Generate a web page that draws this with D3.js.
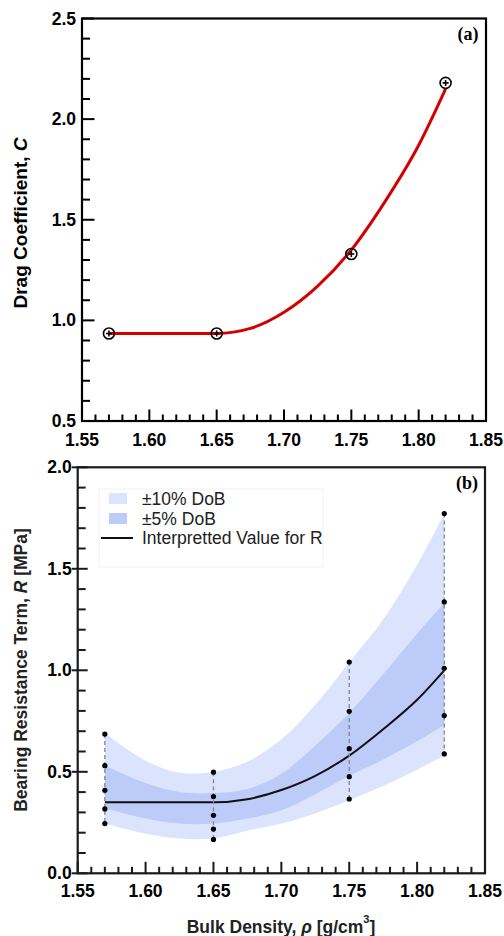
<!DOCTYPE html>
<html>
<head>
<meta charset="utf-8">
<script src="https://cdn.jsdelivr.net/npm/d3@7"></script>
<style>
  body { margin: 0; background: #fff; }
  svg { display: block; }
  text { font-family: "Liberation Sans", Arial, sans-serif; }
</style>
</head>
<body>
<svg width="504" height="936"></svg>
<script>
// panel (a) - drag coefficient
var dragRho = [1.57, 1.65, 1.75, 1.82];
var dragC = [0.935, 0.935, 1.33, 2.18];
var fitRhoA = [1.57, 1.60, 1.65, 1.675, 1.70, 1.725, 1.75, 1.775, 1.80, 1.82];
var fitC = [0.935, 0.935, 0.935, 0.96, 1.04, 1.17, 1.35, 1.59, 1.87, 2.15];

// panel (b) - bearing resistance
var bandRho = [1.57, 1.60, 1.625, 1.65, 1.675, 1.70, 1.725, 1.75, 1.775, 1.80, 1.82];
var outerHi = [0.69, 0.555, 0.495, 0.50, 0.55, 0.66, 0.83, 1.04, 1.25, 1.52, 1.77];
var innerHi = [0.53, 0.445, 0.40, 0.395, 0.415, 0.49, 0.63, 0.79, 0.98, 1.18, 1.33];
var innerLo = [0.32, 0.27, 0.245, 0.245, 0.27, 0.31, 0.39, 0.48, 0.56, 0.65, 0.73];
var outerLo = [0.245, 0.195, 0.172, 0.172, 0.21, 0.245, 0.295, 0.36, 0.43, 0.51, 0.58];
var fitRhoB = [1.57, 1.60, 1.625, 1.65, 1.675, 1.70, 1.725, 1.75, 1.775, 1.80, 1.82];
var fitR = [0.35, 0.35, 0.35, 0.35, 0.365, 0.41, 0.48, 0.58, 0.71, 0.855, 1.0];
var sampleRho = [1.57, 1.65, 1.75, 1.82];
var sampleR = [
  [0.686, 0.530, 0.409, 0.317, 0.245],
  [0.498, 0.378, 0.286, 0.218, 0.167],
  [1.041, 0.798, 0.614, 0.476, 0.366],
  [1.772, 1.337, 1.010, 0.777, 0.588]
];

var xMajor = [1.55, 1.60, 1.65, 1.70, 1.75, 1.80, 1.85];
var yMajorA = [0.5, 1.0, 1.5, 2.0, 2.5];
var yMajorB = [0.0, 0.5, 1.0, 1.5, 2.0];
var legendLabels = ["\u00b110% DoB", "\u00b15% DoB", "Interpretted Value for R"];

var svg = d3.select("svg");
var LIGHT = "#dbe4fc", DARK = "#bccbf7";

function range(a, b, step) {
    var out = [];
    var n = Math.round((b - a) / step);
    for (var i = 0; i <= n; i++) out.push(+(a + i * step).toFixed(3));
    return out;
}

function drawAxes(x, y, yMajor, yMinorStep, opt) {
    var g = svg.append("g");
    var x0 = x.range()[0], x1 = x.range()[1];
    var y0 = y.range()[0], y1 = y.range()[1];
    // x minor / major ticks (inward)
    g.selectAll(".xm").data(range(1.55, 1.85, 0.01)).join("line")
        .attr("x1", d => x(d)).attr("x2", d => x(d))
        .attr("y1", y0).attr("y2", d => y0 - (xMajor.some(m => Math.abs(m - d) < 1e-6) ? 11.5 : 6.5))
        .attr("stroke", opt.axisColor).attr("stroke-width", 2);
    var yd = y.domain();
    g.selectAll(".ym").data(range(yd[0], yd[1], yMinorStep)).join("line")
        .attr("y1", d => y(d)).attr("y2", d => y(d))
        .attr("x1", d => x0 - (yMajor.some(m => Math.abs(m - d) < 1e-6) ? opt.yOut : 0))
        .attr("x2", d => x0 + (yMajor.some(m => Math.abs(m - d) < 1e-6) ? opt.yMajorIn : opt.yMinorIn))
        .attr("stroke", opt.axisColor).attr("stroke-width", 2);
    // frame
    g.append("rect").attr("x", x0).attr("y", y1).attr("width", x1 - x0).attr("height", y0 - y1)
        .attr("fill", "none").attr("stroke", opt.axisColor).attr("stroke-width", 2.2);
    // labels
    g.selectAll(".xl").data(xMajor).join("text")
        .attr("x", d => x(d)).attr("y", y0 + opt.xLabelDy)
        .attr("text-anchor", "middle").attr("font-size", 17.5).attr("font-weight", "bold")
        .text(d => d.toFixed(2));
    g.selectAll(".yl").data(yMajor).join("text")
        .attr("x", x0 - 6).attr("y", d => y(d) + 6)
        .attr("text-anchor", "end").attr("font-size", 17.5).attr("font-weight", "bold")
        .text(d => d.toFixed(1));
}

// ---------- panel (a)
var xA = d3.scaleLinear().domain([1.55, 1.85]).range([82, 486]);
var yA = d3.scaleLinear().domain([0.5, 2.5]).range([421, 18.5]);

drawAxes(xA, yA, yMajorA, 0.1, { axisColor: "#000", yOut: 0, yMajorIn: 12.5, yMinorIn: 8, xLabelDy: 25 });

var lineA = d3.line().x(d => xA(d[0])).y(d => yA(d[1])).curve(d3.curveMonotoneX);
svg.append("path").datum(d3.zip(fitRhoA, fitC))
    .attr("d", lineA).attr("fill", "none").attr("stroke", "#d40000").attr("stroke-width", 3);

var mk = svg.selectAll(".mk").data(d3.zip(dragRho, dragC)).join("g")
    .attr("transform", d => "translate(" + xA(d[0]) + "," + yA(d[1]) + ")");
mk.append("circle").attr("r", 5.5).attr("fill", "none").attr("stroke", "#000").attr("stroke-width", 1.6);
mk.append("path").attr("d", "M-3,0H3M0,-3V3").attr("stroke", "#000").attr("stroke-width", 1.6);

svg.append("text").attr("x", 468).attr("y", 40).attr("text-anchor", "middle")
    .style("font-family", "'Liberation Serif', 'Times New Roman', serif")
    .attr("font-size", 18).attr("font-weight", "bold").text("(a)");

var tA = svg.append("text").attr("transform", "translate(27,223) rotate(-90)")
    .attr("text-anchor", "middle").attr("font-size", 19).attr("font-weight", "bold");
tA.append("tspan").text("Drag Coefficient, ");
tA.append("tspan").attr("font-style", "italic").text("C");

// ---------- panel (b)
var xB = d3.scaleLinear().domain([1.55, 1.85]).range([77.7, 485]);
var yB = d3.scaleLinear().domain([0, 2]).range([873.3, 467.3]);

var bandData = bandRho.map((r, i) => ({ r: r, oh: outerHi[i], ih: innerHi[i], il: innerLo[i], ol: outerLo[i] }));
var areaOuter = d3.area().x(d => xB(d.r)).y0(d => yB(d.ol)).y1(d => yB(d.oh)).curve(d3.curveCatmullRom);
var areaInner = d3.area().x(d => xB(d.r)).y0(d => yB(d.il)).y1(d => yB(d.ih)).curve(d3.curveCatmullRom);
svg.append("path").datum(bandData).attr("d", areaOuter).attr("fill", LIGHT);
svg.append("path").datum(bandData).attr("d", areaInner).attr("fill", DARK);

svg.append("path").datum(d3.zip(fitRhoB, fitR))
    .attr("d", d3.line().x(d => xB(d[0])).y(d => yB(d[1])).curve(d3.curveMonotoneX))
    .attr("fill", "none").attr("stroke", "#111").attr("stroke-width", 2);

// sample columns
var col = svg.selectAll(".col").data(sampleRho.map((r, i) => ({ r: r, v: sampleR[i] }))).join("g");
col.append("line")
    .attr("x1", d => xB(d.r)).attr("x2", d => xB(d.r))
    .attr("y1", d => yB(d3.max(d.v))).attr("y2", d => yB(d3.min(d.v)))
    .attr("stroke", "#808590").attr("stroke-width", 1.3).attr("stroke-dasharray", "4,3");
col.selectAll("circle").data(d => d.v.map(v => [d.r, v])).join("circle")
    .attr("cx", d => xB(d[0])).attr("cy", d => yB(d[1])).attr("r", 2.6).attr("fill", "#000");

drawAxes(xB, yB, yMajorB, 0.1, { axisColor: "#1a1a1a", yOut: 6, yMajorIn: 10, yMinorIn: 8, xLabelDy: 24 });

svg.append("text").attr("x", 467).attr("y", 489).attr("text-anchor", "middle")
    .style("font-family", "'Liberation Serif', 'Times New Roman', serif")
    .attr("font-size", 18).attr("font-weight", "bold").text("(b)");

// legend
var lg = svg.append("g");
lg.append("rect").attr("x", 99).attr("y", 489).attr("width", 224).attr("height", 78)
    .attr("fill", "none").attr("stroke", "#f2f2f2").attr("stroke-width", 1);
lg.append("rect").attr("x", 109).attr("y", 493).attr("width", 18).attr("height", 11).attr("fill", LIGHT);
lg.append("rect").attr("x", 109).attr("y", 513).attr("width", 18).attr("height", 11).attr("fill", DARK);
lg.append("line").attr("x1", 101).attr("x2", 133).attr("y1", 538).attr("y2", 538)
    .attr("stroke", "#111").attr("stroke-width", 2);
lg.selectAll(".lt").data(legendLabels).join("text")
    .attr("x", 142).attr("y", (d, i) => 505 + i * 19.7)
    .attr("font-size", 17.5).attr("fill", "#222").text(d => d);

var tB = svg.append("text").attr("transform", "translate(27,670) rotate(-90)")
    .attr("text-anchor", "middle").attr("font-size", 17.5).attr("font-weight", "bold").attr("fill", "#222");
tB.append("tspan").text("Bearing Resistance Term, ");
tB.append("tspan").attr("font-style", "italic").text("R");
tB.append("tspan").text(" [MPa]");

var xt = svg.append("text").attr("x", 281).attr("y", 933)
    .attr("text-anchor", "middle").attr("font-size", 17.5).attr("font-weight", "bold").attr("fill", "#222");
xt.append("tspan").text("Bulk Density, ");
xt.append("tspan").attr("font-style", "italic").text("\u03c1");
xt.append("tspan").text(" [g/cm");
xt.append("tspan").attr("font-size", 11).attr("dy", -10).text("3");
xt.append("tspan").attr("dy", 10).text("]");
</script>
</body>
</html>
